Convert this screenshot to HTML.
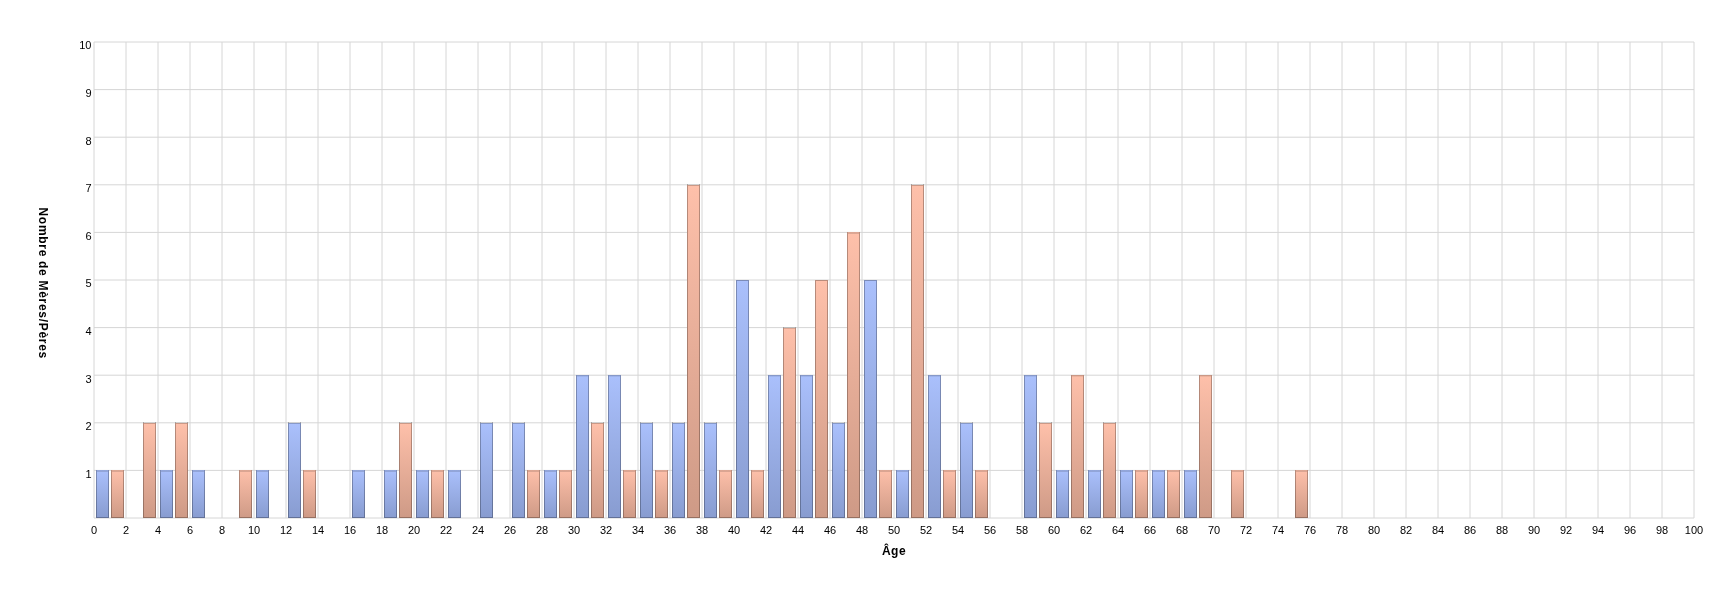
<!DOCTYPE html>
<html><head><meta charset="utf-8"><title>Chart</title>
<style>
html,body{margin:0;padding:0;background:#fff;}
body{width:1726px;height:594px;overflow:hidden;}
svg{display:block;will-change:transform;}
text{font-family:"Liberation Sans",sans-serif;fill:#000;}
.t{font-size:11px;}
.b{font-size:12px;font-weight:bold;}
.s{fill:#000;fill-opacity:0.27;}
</style></head><body>
<svg width="1726" height="594" viewBox="0 0 1726 594">
<defs>
<linearGradient id="gb" x1="0" y1="0" x2="0" y2="1"><stop offset="0" stop-color="#aac0fc"/><stop offset="1" stop-color="#889cd0"/></linearGradient>
<linearGradient id="gbs" x1="0" y1="0" x2="0" y2="1"><stop offset="0" stop-color="#7a8ec0"/><stop offset="1" stop-color="#6070a0"/></linearGradient>
<linearGradient id="go" x1="0" y1="0" x2="0" y2="1"><stop offset="0" stop-color="#fec0aa"/><stop offset="1" stop-color="#ce9a86"/></linearGradient>
<linearGradient id="gos" x1="0" y1="0" x2="0" y2="1"><stop offset="0" stop-color="#c89482"/><stop offset="1" stop-color="#966e60"/></linearGradient>
</defs>
<rect width="1726" height="594" fill="#fff"/>
<g stroke="#d6d6d6" stroke-width="1" fill="none">
<line x1="94" y1="42" x2="94" y2="518"/><line x1="126" y1="42" x2="126" y2="518"/><line x1="158" y1="42" x2="158" y2="518"/><line x1="190" y1="42" x2="190" y2="518"/><line x1="222" y1="42" x2="222" y2="518"/><line x1="254" y1="42" x2="254" y2="518"/><line x1="286" y1="42" x2="286" y2="518"/><line x1="318" y1="42" x2="318" y2="518"/><line x1="350" y1="42" x2="350" y2="518"/><line x1="382" y1="42" x2="382" y2="518"/><line x1="414" y1="42" x2="414" y2="518"/><line x1="446" y1="42" x2="446" y2="518"/><line x1="478" y1="42" x2="478" y2="518"/><line x1="510" y1="42" x2="510" y2="518"/><line x1="542" y1="42" x2="542" y2="518"/><line x1="574" y1="42" x2="574" y2="518"/><line x1="606" y1="42" x2="606" y2="518"/><line x1="638" y1="42" x2="638" y2="518"/><line x1="670" y1="42" x2="670" y2="518"/><line x1="702" y1="42" x2="702" y2="518"/><line x1="734" y1="42" x2="734" y2="518"/><line x1="766" y1="42" x2="766" y2="518"/><line x1="798" y1="42" x2="798" y2="518"/><line x1="830" y1="42" x2="830" y2="518"/><line x1="862" y1="42" x2="862" y2="518"/><line x1="894" y1="42" x2="894" y2="518"/><line x1="926" y1="42" x2="926" y2="518"/><line x1="958" y1="42" x2="958" y2="518"/><line x1="990" y1="42" x2="990" y2="518"/><line x1="1022" y1="42" x2="1022" y2="518"/><line x1="1054" y1="42" x2="1054" y2="518"/><line x1="1086" y1="42" x2="1086" y2="518"/><line x1="1118" y1="42" x2="1118" y2="518"/><line x1="1150" y1="42" x2="1150" y2="518"/><line x1="1182" y1="42" x2="1182" y2="518"/><line x1="1214" y1="42" x2="1214" y2="518"/><line x1="1246" y1="42" x2="1246" y2="518"/><line x1="1278" y1="42" x2="1278" y2="518"/><line x1="1310" y1="42" x2="1310" y2="518"/><line x1="1342" y1="42" x2="1342" y2="518"/><line x1="1374" y1="42" x2="1374" y2="518"/><line x1="1406" y1="42" x2="1406" y2="518"/><line x1="1438" y1="42" x2="1438" y2="518"/><line x1="1470" y1="42" x2="1470" y2="518"/><line x1="1502" y1="42" x2="1502" y2="518"/><line x1="1534" y1="42" x2="1534" y2="518"/><line x1="1566" y1="42" x2="1566" y2="518"/><line x1="1598" y1="42" x2="1598" y2="518"/><line x1="1630" y1="42" x2="1630" y2="518"/><line x1="1662" y1="42" x2="1662" y2="518"/><line x1="1694" y1="42" x2="1694" y2="518"/>
<line x1="94" y1="518.0" x2="1694" y2="518.0"/><line x1="94" y1="470.4" x2="1694" y2="470.4"/><line x1="94" y1="422.8" x2="1694" y2="422.8"/><line x1="94" y1="375.2" x2="1694" y2="375.2"/><line x1="94" y1="327.6" x2="1694" y2="327.6"/><line x1="94" y1="280.0" x2="1694" y2="280.0"/><line x1="94" y1="232.4" x2="1694" y2="232.4"/><line x1="94" y1="184.8" x2="1694" y2="184.8"/><line x1="94" y1="137.2" x2="1694" y2="137.2"/><line x1="94" y1="89.6" x2="1694" y2="89.6"/><line x1="94" y1="42.0" x2="1694" y2="42.0"/>
</g>
<g>
<rect x="96" y="470" width="13" height="48" fill="url(#gb)"/><path class="s" d="M96 470h1V518h-1zM108 470h1V518h-1z"/><path class="s" d="M97 470.4h11v1h-11zM97 517h11v1h-11z"/>
<rect x="160" y="470" width="13" height="48" fill="url(#gb)"/><path class="s" d="M160 470h1V518h-1zM172 470h1V518h-1z"/><path class="s" d="M161 470.4h11v1h-11zM161 517h11v1h-11z"/>
<rect x="192" y="470" width="13" height="48" fill="url(#gb)"/><path class="s" d="M192 470h1V518h-1zM204 470h1V518h-1z"/><path class="s" d="M193 470.4h11v1h-11zM193 517h11v1h-11z"/>
<rect x="256" y="470" width="13" height="48" fill="url(#gb)"/><path class="s" d="M256 470h1V518h-1zM268 470h1V518h-1z"/><path class="s" d="M257 470.4h11v1h-11zM257 517h11v1h-11z"/>
<rect x="288" y="423" width="13" height="95" fill="url(#gb)"/><path class="s" d="M288 422h1V518h-1zM300 422h1V518h-1z"/><path class="s" d="M289 422.8h11v1h-11zM289 517h11v1h-11z"/>
<rect x="352" y="470" width="13" height="48" fill="url(#gb)"/><path class="s" d="M352 470h1V518h-1zM364 470h1V518h-1z"/><path class="s" d="M353 470.4h11v1h-11zM353 517h11v1h-11z"/>
<rect x="384" y="470" width="13" height="48" fill="url(#gb)"/><path class="s" d="M384 470h1V518h-1zM396 470h1V518h-1z"/><path class="s" d="M385 470.4h11v1h-11zM385 517h11v1h-11z"/>
<rect x="416" y="470" width="13" height="48" fill="url(#gb)"/><path class="s" d="M416 470h1V518h-1zM428 470h1V518h-1z"/><path class="s" d="M417 470.4h11v1h-11zM417 517h11v1h-11z"/>
<rect x="448" y="470" width="13" height="48" fill="url(#gb)"/><path class="s" d="M448 470h1V518h-1zM460 470h1V518h-1z"/><path class="s" d="M449 470.4h11v1h-11zM449 517h11v1h-11z"/>
<rect x="480" y="423" width="13" height="95" fill="url(#gb)"/><path class="s" d="M480 422h1V518h-1zM492 422h1V518h-1z"/><path class="s" d="M481 422.8h11v1h-11zM481 517h11v1h-11z"/>
<rect x="512" y="423" width="13" height="95" fill="url(#gb)"/><path class="s" d="M512 422h1V518h-1zM524 422h1V518h-1z"/><path class="s" d="M513 422.8h11v1h-11zM513 517h11v1h-11z"/>
<rect x="544" y="470" width="13" height="48" fill="url(#gb)"/><path class="s" d="M544 470h1V518h-1zM556 470h1V518h-1z"/><path class="s" d="M545 470.4h11v1h-11zM545 517h11v1h-11z"/>
<rect x="576" y="375" width="13" height="143" fill="url(#gb)"/><path class="s" d="M576 375h1V518h-1zM588 375h1V518h-1z"/><path class="s" d="M577 375.2h11v1h-11zM577 517h11v1h-11z"/>
<rect x="608" y="375" width="13" height="143" fill="url(#gb)"/><path class="s" d="M608 375h1V518h-1zM620 375h1V518h-1z"/><path class="s" d="M609 375.2h11v1h-11zM609 517h11v1h-11z"/>
<rect x="640" y="423" width="13" height="95" fill="url(#gb)"/><path class="s" d="M640 422h1V518h-1zM652 422h1V518h-1z"/><path class="s" d="M641 422.8h11v1h-11zM641 517h11v1h-11z"/>
<rect x="672" y="423" width="13" height="95" fill="url(#gb)"/><path class="s" d="M672 422h1V518h-1zM684 422h1V518h-1z"/><path class="s" d="M673 422.8h11v1h-11zM673 517h11v1h-11z"/>
<rect x="704" y="423" width="13" height="95" fill="url(#gb)"/><path class="s" d="M704 422h1V518h-1zM716 422h1V518h-1z"/><path class="s" d="M705 422.8h11v1h-11zM705 517h11v1h-11z"/>
<rect x="736" y="280" width="13" height="238" fill="url(#gb)"/><path class="s" d="M736 280h1V518h-1zM748 280h1V518h-1z"/><path class="s" d="M737 280h11v1h-11zM737 517h11v1h-11z"/>
<rect x="768" y="375" width="13" height="143" fill="url(#gb)"/><path class="s" d="M768 375h1V518h-1zM780 375h1V518h-1z"/><path class="s" d="M769 375.2h11v1h-11zM769 517h11v1h-11z"/>
<rect x="800" y="375" width="13" height="143" fill="url(#gb)"/><path class="s" d="M800 375h1V518h-1zM812 375h1V518h-1z"/><path class="s" d="M801 375.2h11v1h-11zM801 517h11v1h-11z"/>
<rect x="832" y="423" width="13" height="95" fill="url(#gb)"/><path class="s" d="M832 422h1V518h-1zM844 422h1V518h-1z"/><path class="s" d="M833 422.8h11v1h-11zM833 517h11v1h-11z"/>
<rect x="864" y="280" width="13" height="238" fill="url(#gb)"/><path class="s" d="M864 280h1V518h-1zM876 280h1V518h-1z"/><path class="s" d="M865 280h11v1h-11zM865 517h11v1h-11z"/>
<rect x="896" y="470" width="13" height="48" fill="url(#gb)"/><path class="s" d="M896 470h1V518h-1zM908 470h1V518h-1z"/><path class="s" d="M897 470.4h11v1h-11zM897 517h11v1h-11z"/>
<rect x="928" y="375" width="13" height="143" fill="url(#gb)"/><path class="s" d="M928 375h1V518h-1zM940 375h1V518h-1z"/><path class="s" d="M929 375.2h11v1h-11zM929 517h11v1h-11z"/>
<rect x="960" y="423" width="13" height="95" fill="url(#gb)"/><path class="s" d="M960 422h1V518h-1zM972 422h1V518h-1z"/><path class="s" d="M961 422.8h11v1h-11zM961 517h11v1h-11z"/>
<rect x="1024" y="375" width="13" height="143" fill="url(#gb)"/><path class="s" d="M1024 375h1V518h-1zM1036 375h1V518h-1z"/><path class="s" d="M1025 375.2h11v1h-11zM1025 517h11v1h-11z"/>
<rect x="1056" y="470" width="13" height="48" fill="url(#gb)"/><path class="s" d="M1056 470h1V518h-1zM1068 470h1V518h-1z"/><path class="s" d="M1057 470.4h11v1h-11zM1057 517h11v1h-11z"/>
<rect x="1088" y="470" width="13" height="48" fill="url(#gb)"/><path class="s" d="M1088 470h1V518h-1zM1100 470h1V518h-1z"/><path class="s" d="M1089 470.4h11v1h-11zM1089 517h11v1h-11z"/>
<rect x="1120" y="470" width="13" height="48" fill="url(#gb)"/><path class="s" d="M1120 470h1V518h-1zM1132 470h1V518h-1z"/><path class="s" d="M1121 470.4h11v1h-11zM1121 517h11v1h-11z"/>
<rect x="1152" y="470" width="13" height="48" fill="url(#gb)"/><path class="s" d="M1152 470h1V518h-1zM1164 470h1V518h-1z"/><path class="s" d="M1153 470.4h11v1h-11zM1153 517h11v1h-11z"/>
<rect x="1184" y="470" width="13" height="48" fill="url(#gb)"/><path class="s" d="M1184 470h1V518h-1zM1196 470h1V518h-1z"/><path class="s" d="M1185 470.4h11v1h-11zM1185 517h11v1h-11z"/>
<rect x="111" y="470" width="13" height="48" fill="url(#go)"/><path class="s" d="M111 470h1V518h-1zM123 470h1V518h-1z"/><path class="s" d="M112 470.4h11v1h-11zM112 517h11v1h-11z"/>
<rect x="143" y="423" width="13" height="95" fill="url(#go)"/><path class="s" d="M143 422h1V518h-1zM155 422h1V518h-1z"/><path class="s" d="M144 422.8h11v1h-11zM144 517h11v1h-11z"/>
<rect x="175" y="423" width="13" height="95" fill="url(#go)"/><path class="s" d="M175 422h1V518h-1zM187 422h1V518h-1z"/><path class="s" d="M176 422.8h11v1h-11zM176 517h11v1h-11z"/>
<rect x="239" y="470" width="13" height="48" fill="url(#go)"/><path class="s" d="M239 470h1V518h-1zM251 470h1V518h-1z"/><path class="s" d="M240 470.4h11v1h-11zM240 517h11v1h-11z"/>
<rect x="303" y="470" width="13" height="48" fill="url(#go)"/><path class="s" d="M303 470h1V518h-1zM315 470h1V518h-1z"/><path class="s" d="M304 470.4h11v1h-11zM304 517h11v1h-11z"/>
<rect x="399" y="423" width="13" height="95" fill="url(#go)"/><path class="s" d="M399 422h1V518h-1zM411 422h1V518h-1z"/><path class="s" d="M400 422.8h11v1h-11zM400 517h11v1h-11z"/>
<rect x="431" y="470" width="13" height="48" fill="url(#go)"/><path class="s" d="M431 470h1V518h-1zM443 470h1V518h-1z"/><path class="s" d="M432 470.4h11v1h-11zM432 517h11v1h-11z"/>
<rect x="527" y="470" width="13" height="48" fill="url(#go)"/><path class="s" d="M527 470h1V518h-1zM539 470h1V518h-1z"/><path class="s" d="M528 470.4h11v1h-11zM528 517h11v1h-11z"/>
<rect x="559" y="470" width="13" height="48" fill="url(#go)"/><path class="s" d="M559 470h1V518h-1zM571 470h1V518h-1z"/><path class="s" d="M560 470.4h11v1h-11zM560 517h11v1h-11z"/>
<rect x="591" y="423" width="13" height="95" fill="url(#go)"/><path class="s" d="M591 422h1V518h-1zM603 422h1V518h-1z"/><path class="s" d="M592 422.8h11v1h-11zM592 517h11v1h-11z"/>
<rect x="623" y="470" width="13" height="48" fill="url(#go)"/><path class="s" d="M623 470h1V518h-1zM635 470h1V518h-1z"/><path class="s" d="M624 470.4h11v1h-11zM624 517h11v1h-11z"/>
<rect x="655" y="470" width="13" height="48" fill="url(#go)"/><path class="s" d="M655 470h1V518h-1zM667 470h1V518h-1z"/><path class="s" d="M656 470.4h11v1h-11zM656 517h11v1h-11z"/>
<rect x="687" y="185" width="13" height="333" fill="url(#go)"/><path class="s" d="M687 184h1V518h-1zM699 184h1V518h-1z"/><path class="s" d="M688 184.8h11v1h-11zM688 517h11v1h-11z"/>
<rect x="719" y="470" width="13" height="48" fill="url(#go)"/><path class="s" d="M719 470h1V518h-1zM731 470h1V518h-1z"/><path class="s" d="M720 470.4h11v1h-11zM720 517h11v1h-11z"/>
<rect x="751" y="470" width="13" height="48" fill="url(#go)"/><path class="s" d="M751 470h1V518h-1zM763 470h1V518h-1z"/><path class="s" d="M752 470.4h11v1h-11zM752 517h11v1h-11z"/>
<rect x="783" y="328" width="13" height="190" fill="url(#go)"/><path class="s" d="M783 327h1V518h-1zM795 327h1V518h-1z"/><path class="s" d="M784 327.6h11v1h-11zM784 517h11v1h-11z"/>
<rect x="815" y="280" width="13" height="238" fill="url(#go)"/><path class="s" d="M815 280h1V518h-1zM827 280h1V518h-1z"/><path class="s" d="M816 280h11v1h-11zM816 517h11v1h-11z"/>
<rect x="847" y="232" width="13" height="286" fill="url(#go)"/><path class="s" d="M847 232h1V518h-1zM859 232h1V518h-1z"/><path class="s" d="M848 232.4h11v1h-11zM848 517h11v1h-11z"/>
<rect x="879" y="470" width="13" height="48" fill="url(#go)"/><path class="s" d="M879 470h1V518h-1zM891 470h1V518h-1z"/><path class="s" d="M880 470.4h11v1h-11zM880 517h11v1h-11z"/>
<rect x="911" y="185" width="13" height="333" fill="url(#go)"/><path class="s" d="M911 184h1V518h-1zM923 184h1V518h-1z"/><path class="s" d="M912 184.8h11v1h-11zM912 517h11v1h-11z"/>
<rect x="943" y="470" width="13" height="48" fill="url(#go)"/><path class="s" d="M943 470h1V518h-1zM955 470h1V518h-1z"/><path class="s" d="M944 470.4h11v1h-11zM944 517h11v1h-11z"/>
<rect x="975" y="470" width="13" height="48" fill="url(#go)"/><path class="s" d="M975 470h1V518h-1zM987 470h1V518h-1z"/><path class="s" d="M976 470.4h11v1h-11zM976 517h11v1h-11z"/>
<rect x="1039" y="423" width="13" height="95" fill="url(#go)"/><path class="s" d="M1039 422h1V518h-1zM1051 422h1V518h-1z"/><path class="s" d="M1040 422.8h11v1h-11zM1040 517h11v1h-11z"/>
<rect x="1071" y="375" width="13" height="143" fill="url(#go)"/><path class="s" d="M1071 375h1V518h-1zM1083 375h1V518h-1z"/><path class="s" d="M1072 375.2h11v1h-11zM1072 517h11v1h-11z"/>
<rect x="1103" y="423" width="13" height="95" fill="url(#go)"/><path class="s" d="M1103 422h1V518h-1zM1115 422h1V518h-1z"/><path class="s" d="M1104 422.8h11v1h-11zM1104 517h11v1h-11z"/>
<rect x="1135" y="470" width="13" height="48" fill="url(#go)"/><path class="s" d="M1135 470h1V518h-1zM1147 470h1V518h-1z"/><path class="s" d="M1136 470.4h11v1h-11zM1136 517h11v1h-11z"/>
<rect x="1167" y="470" width="13" height="48" fill="url(#go)"/><path class="s" d="M1167 470h1V518h-1zM1179 470h1V518h-1z"/><path class="s" d="M1168 470.4h11v1h-11zM1168 517h11v1h-11z"/>
<rect x="1199" y="375" width="13" height="143" fill="url(#go)"/><path class="s" d="M1199 375h1V518h-1zM1211 375h1V518h-1z"/><path class="s" d="M1200 375.2h11v1h-11zM1200 517h11v1h-11z"/>
<rect x="1231" y="470" width="13" height="48" fill="url(#go)"/><path class="s" d="M1231 470h1V518h-1zM1243 470h1V518h-1z"/><path class="s" d="M1232 470.4h11v1h-11zM1232 517h11v1h-11z"/>
<rect x="1295" y="470" width="13" height="48" fill="url(#go)"/><path class="s" d="M1295 470h1V518h-1zM1307 470h1V518h-1z"/><path class="s" d="M1296 470.4h11v1h-11zM1296 517h11v1h-11z"/>
</g>
<g class="t" text-anchor="middle">
<text x="94" y="534">0</text><text x="126" y="534">2</text><text x="158" y="534">4</text><text x="190" y="534">6</text><text x="222" y="534">8</text><text x="254" y="534">10</text><text x="286" y="534">12</text><text x="318" y="534">14</text><text x="350" y="534">16</text><text x="382" y="534">18</text><text x="414" y="534">20</text><text x="446" y="534">22</text><text x="478" y="534">24</text><text x="510" y="534">26</text><text x="542" y="534">28</text><text x="574" y="534">30</text><text x="606" y="534">32</text><text x="638" y="534">34</text><text x="670" y="534">36</text><text x="702" y="534">38</text><text x="734" y="534">40</text><text x="766" y="534">42</text><text x="798" y="534">44</text><text x="830" y="534">46</text><text x="862" y="534">48</text><text x="894" y="534">50</text><text x="926" y="534">52</text><text x="958" y="534">54</text><text x="990" y="534">56</text><text x="1022" y="534">58</text><text x="1054" y="534">60</text><text x="1086" y="534">62</text><text x="1118" y="534">64</text><text x="1150" y="534">66</text><text x="1182" y="534">68</text><text x="1214" y="534">70</text><text x="1246" y="534">72</text><text x="1278" y="534">74</text><text x="1310" y="534">76</text><text x="1342" y="534">78</text><text x="1374" y="534">80</text><text x="1406" y="534">82</text><text x="1438" y="534">84</text><text x="1470" y="534">86</text><text x="1502" y="534">88</text><text x="1534" y="534">90</text><text x="1566" y="534">92</text><text x="1598" y="534">94</text><text x="1630" y="534">96</text><text x="1662" y="534">98</text><text x="1694" y="534">100</text>
</g>
<g class="t" text-anchor="end">
<text x="91.5" y="477.7">1</text><text x="91.5" y="430.1">2</text><text x="91.5" y="382.5">3</text><text x="91.5" y="334.9">4</text><text x="91.5" y="287.3">5</text><text x="91.5" y="239.7">6</text><text x="91.5" y="192.1">7</text><text x="91.5" y="144.5">8</text><text x="91.5" y="96.9">9</text><text x="91.5" y="49.3">10</text>
</g>
<text class="b" text-anchor="middle" x="894" y="554.7" letter-spacing="0.5">Âge</text>
<text class="b" text-anchor="middle" transform="translate(38.8 283.2) rotate(90)" letter-spacing="0.7">Nombre de Mères/Pères</text>
</svg>
</body></html>
